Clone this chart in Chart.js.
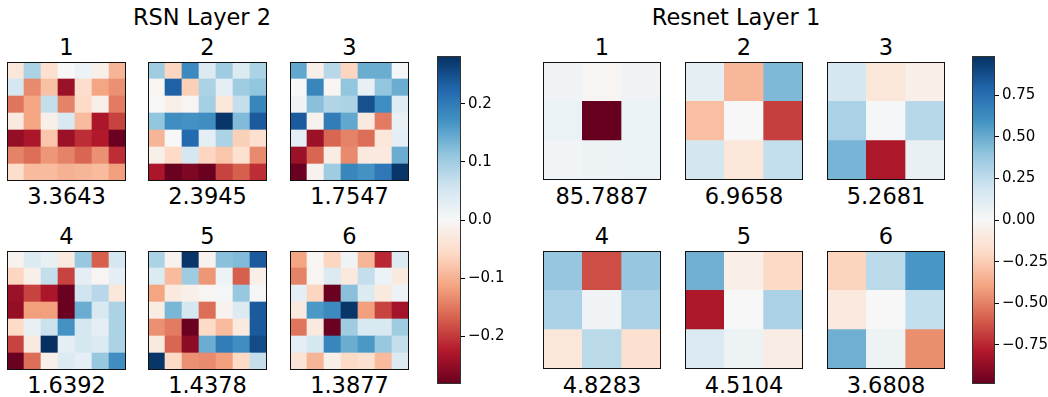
<!DOCTYPE html>
<html>
<head>
<meta charset="utf-8">
<script src="https://cdn.jsdelivr.net/npm/chart.js@4/dist/chart.umd.min.js"></script>
<style>
  html, body { margin: 0; padding: 0; background: #fff; }
  #page { position: relative; width: 1048px; height: 397px; overflow: hidden; font-family: "DejaVu Sans", sans-serif; color: #000; }
  .box { position: absolute; }
  .lbl { position: absolute; transform: translate(-50%, -50%); white-space: nowrap; line-height: 1; }
  .big { font-size: 22.5px; }
</style>
</head>
<body>
<div id="page"></div>
<script>
// Filter weights (rows listed top to bottom)
const rsn1 = [
  [-0.034, 0.090, -0.045, 0.000, 0.017, -0.017, -0.096],
  [0.050, -0.135, -0.085, -0.243, -0.050, -0.113, -0.130],
  [-0.152, -0.113, 0.068, -0.141, -0.056, -0.017, -0.147],
  [-0.028, -0.113, -0.017, 0.045, -0.090, -0.231, -0.192],
  [-0.248, -0.231, -0.079, -0.243, -0.209, -0.226, -0.279],
  [-0.141, -0.158, -0.124, -0.141, -0.164, -0.130, -0.209],
  [-0.051, -0.090, -0.090, -0.100, -0.096, -0.090, -0.118]
];
const rsn2 = [
  [0.100, -0.062, 0.180, 0.040, 0.100, 0.040, 0.090],
  [-0.006, 0.231, -0.068, 0.090, 0.028, 0.100, 0.113],
  [0.000, -0.017, -0.006, 0.096, -0.034, 0.068, 0.186],
  [0.113, 0.175, 0.170, 0.175, 0.276, 0.124, 0.237],
  [-0.096, 0.000, 0.220, 0.028, 0.090, -0.068, -0.045],
  [-0.017, -0.056, 0.050, -0.062, -0.079, -0.045, -0.135],
  [-0.231, -0.279, -0.265, -0.279, -0.192, -0.169, -0.209]
];
const rsn3 = [
  [0.147, -0.017, 0.079, -0.062, 0.141, 0.141, 0.006],
  [0.000, 0.186, -0.006, 0.113, 0.023, 0.113, 0.141],
  [0.011, 0.118, 0.085, 0.090, 0.248, 0.175, 0.034],
  [0.237, -0.011, 0.197, 0.147, -0.028, -0.147, 0.023],
  [0.028, -0.243, -0.164, -0.141, -0.158, -0.034, 0.028],
  [-0.243, -0.164, -0.023, -0.135, -0.028, -0.028, 0.141],
  [-0.279, -0.011, 0.100, 0.186, 0.170, 0.203, 0.276]
];
const rsn4 = [
  [-0.011, 0.040, 0.023, -0.028, 0.107, -0.169, 0.050],
  [-0.062, -0.017, 0.068, -0.192, 0.028, -0.006, 0.028],
  [-0.243, -0.192, -0.231, -0.279, 0.056, 0.079, -0.034],
  [-0.248, -0.118, -0.118, -0.279, 0.141, 0.045, 0.090],
  [-0.056, 0.023, 0.062, 0.170, 0.050, 0.028, 0.090],
  [-0.192, -0.028, 0.282, 0.028, 0.050, 0.040, 0.090],
  [-0.279, -0.158, -0.017, 0.040, 0.028, 0.107, 0.175]
];
const rsn5 = [
  [0.090, -0.011, 0.276, -0.011, 0.118, 0.124, 0.237],
  [0.040, -0.090, 0.100, -0.124, 0.017, -0.169, -0.017],
  [-0.113, -0.028, -0.017, -0.006, 0.006, 0.107, 0.006],
  [-0.023, 0.130, 0.050, -0.158, -0.011, 0.040, 0.237],
  [-0.130, -0.147, -0.279, -0.056, -0.090, -0.028, 0.237],
  [-0.028, -0.164, -0.254, 0.141, 0.197, 0.175, 0.254],
  [0.276, -0.056, -0.130, -0.135, -0.118, -0.056, 0.068]
];
const rsn6 = [
  [-0.113, -0.006, -0.062, 0.011, -0.096, -0.214, 0.040],
  [-0.141, -0.006, 0.040, -0.028, 0.068, 0.017, -0.028],
  [0.028, -0.062, -0.279, 0.118, 0.040, -0.028, 0.017],
  [-0.028, 0.164, 0.180, 0.276, -0.118, -0.192, -0.237],
  [-0.152, -0.028, -0.279, 0.100, 0.045, 0.045, 0.100],
  [0.028, 0.050, 0.186, 0.141, 0.164, 0.107, 0.068],
  [-0.040, -0.096, -0.017, -0.056, -0.045, -0.090, 0.040]
];
const res1 = [[0.04, -0.02, 0.04], [0.06, -0.99, 0.06], [0.03, 0.05, 0.06]];
const res2 = [[0.10, -0.33, 0.44], [-0.30, 0.00, -0.68], [0.18, -0.12, 0.24]];
const res3 = [[0.17, -0.12, -0.06], [0.32, 0.01, 0.28], [0.46, -0.80, 0.08]];
const res4 = [[0.38, -0.64, 0.38], [0.32, 0.04, 0.32], [-0.12, 0.27, -0.16]];
const res5 = [[0.48, -0.06, -0.20], [-0.80, 0.00, 0.32], [0.15, 0.05, -0.08]];
const res6 = [[-0.22, 0.27, 0.58], [-0.10, 0.00, 0.24], [0.48, 0.05, -0.46]];

const panelNames = ["1", "2", "3", "4", "5", "6"];
const rsnScores = ["3.3643", "2.3945", "1.7547", "1.6392", "1.4378", "1.3877"];
const resScores = ["85.7887", "6.9658", "5.2681", "4.8283", "4.5104", "3.6808"];
const rsnRange = [-0.282, 0.282];
const resRange = [-0.985, 0.985];
const rsnTicks = [-0.2, -0.1, 0.0, 0.1, 0.2];
const resTicks = [-0.75, -0.5, -0.25, 0.0, 0.25, 0.5, 0.75];

// RdBu colour table (red = low, blue = high)
const RDBU = [
  [103, 0, 31], [178, 24, 43], [214, 96, 77], [244, 165, 130], [253, 219, 199],
  [247, 247, 247], [209, 229, 240], [146, 197, 222], [67, 147, 195], [33, 102, 172], [5, 48, 97]
];
function rdbu(t) {
  t = Math.max(0, Math.min(1, t));
  const p = t * (RDBU.length - 1);
  const i = Math.min(Math.floor(p), RDBU.length - 2);
  const f = p - i;
  const a = RDBU[i], b = RDBU[i + 1];
  const c = a.map((v, k) => Math.round(v + (b[k] - v) * f));
  return `rgb(${c[0]},${c[1]},${c[2]})`;
}

const page = document.getElementById('page');
function addBox(x, y, w, h) {
  const d = document.createElement('div');
  d.className = 'box';
  Object.assign(d.style, { left: x + 'px', top: y + 'px', width: w + 'px', height: h + 'px' });
  const c = document.createElement('canvas');
  d.appendChild(c);
  page.appendChild(d);
  return c;
}
function addText(txt, x, y, cls) {
  const d = document.createElement('div');
  d.className = 'lbl ' + cls;
  d.textContent = txt;
  d.style.left = x + 'px';
  d.style.top = y + 'px';
  page.appendChild(d);
}

// Outline around the plotting area
const framePlugin = {
  id: 'frame',
  afterDraw(chart, args, opts) {
    const a = chart.chartArea, ctx = chart.ctx;
    ctx.save();
    ctx.strokeStyle = opts.color || '#000';
    ctx.lineWidth = 1;
    ctx.strokeRect(a.left + 0.5, a.top + 0.5, a.right - a.left - 1, a.bottom - a.top - 1);
    ctx.restore();
  }
};

function heatmap(canvas, grid, range) {
  const n = grid.length;
  const cols = grid[0].map((_, j) => String(j));
  // one stacked dataset per row, bottom row first
  const datasets = [];
  for (let r = n - 1; r >= 0; r--) {
    datasets.push({
      data: grid[r].map(() => 1),
      backgroundColor: grid[r].map(v => rdbu((v - range[0]) / (range[1] - range[0]))),
      borderWidth: 0,
      barPercentage: 1,
      categoryPercentage: 1
    });
  }
  new Chart(canvas, {
    type: 'bar',
    data: { labels: cols, datasets },
    options: {
      responsive: true, maintainAspectRatio: false, animation: false,
      layout: { padding: 0 },
      plugins: { legend: { display: false }, tooltip: { enabled: false }, frame: { color: '#111' } },
      scales: {
        x: { display: false, stacked: true },
        y: { display: false, stacked: true, min: 0, max: n }
      }
    },
    plugins: [framePlugin]
  });
}

function fmtTick(v, dec) {
  const s = Math.abs(v).toFixed(dec);
  return (v < -1e-9 ? '\u2212' : '') + s;
}

function colorbar(canvas, range, ticks, dec, pad) {
  new Chart(canvas, {
    type: 'bar',
    data: {
      labels: [''],
      datasets: [{
        data: [range],
        borderWidth: 0,
        barPercentage: 1,
        categoryPercentage: 1,
        backgroundColor(ctx) {
          const chart = ctx.chart;
          const ys = chart.scales.y;
          if (!ys || !chart.chartArea) return '#fff';
          const y0 = ys.getPixelForValue(range[1]);
          const y1 = ys.getPixelForValue(range[0]);
          const g = chart.ctx.createLinearGradient(0, y0, 0, y1);
          for (let i = 0; i <= 40; i++) g.addColorStop(i / 40, rdbu(1 - i / 40));
          return g;
        }
      }]
    },
    options: {
      responsive: true, maintainAspectRatio: false, animation: false,
      layout: { padding: { top: pad, bottom: pad, left: 0, right: 0 } },
      plugins: { legend: { display: false }, tooltip: { enabled: false }, frame: { color: '#333' } },
      scales: {
        x: { display: false },
        y: {
          position: 'right', min: range[0], max: range[1],
          afterBuildTicks(axis) { axis.ticks = ticks.map(v => ({ value: v })); },
          afterFit(axis) { axis.width = 60; },
          border: { display: false },
          grid: { drawOnChartArea: false, drawTicks: true, tickLength: 4, color: '#000', tickWidth: 1 },
          ticks: {
            color: '#000', padding: 3,
            font: { family: 'DejaVu Sans', size: 15 },
            callback: v => fmtTick(v, dec)
          }
        }
      }
    },
    plugins: [framePlugin]
  });
}

// Layout
const rsnX = [7, 148, 290];
const resX = [543, 685, 827];
const rowY = [62, 251];
const S = 119;
const rsnGrids = [rsn1, rsn2, rsn3, rsn4, rsn5, rsn6];
const resGrids = [res1, res2, res3, res4, res5, res6];

for (let k = 0; k < 6; k++) {
  const col = k % 3, row = Math.floor(k / 3);
  const y = rowY[row];
  heatmap(addBox(rsnX[col], y, S, S), rsnGrids[k], rsnRange);
  heatmap(addBox(resX[col], y, S - 1, S - 1), resGrids[k], resRange);
  const cx1 = rsnX[col] + S / 2, cx2 = resX[col] + (S - 1) / 2;
  addText(panelNames[k], cx1, y - 15, 'big');
  addText(panelNames[k], cx2, y - 15, 'big');
  addText(rsnScores[k], cx1, y + S + 15, 'big');
  addText(resScores[k], cx2, y + S + 15, 'big');
}

const PAD = 12;
colorbar(addBox(437, 56 - PAD, 24 + 60, 328 + 2 * PAD), rsnRange, rsnTicks, 1, PAD);
colorbar(addBox(972, 56 - PAD, 23 + 60, 328 + 2 * PAD), resRange, resTicks, 2, PAD);

addText('RSN Layer 2', 202, 17, 'big');
addText('Resnet Layer 1', 736, 17, 'big');
</script>
</body>
</html>
